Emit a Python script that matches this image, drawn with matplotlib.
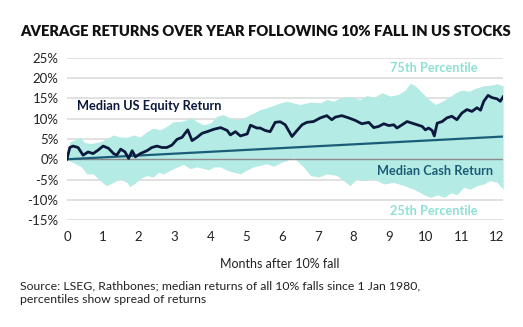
import matplotlib.pyplot as plt
import numpy as np

plt.rcParams['font.family'] = ['Lato', 'DejaVu Sans']

# median US equity return after a 10% fall (months, % return)
equity_months = [0, 0.08, 0.17, 0.31, 0.45, 0.59, 0.73, 0.87, 1.01, 1.16, 1.3, 1.39,
                 1.5, 1.62, 1.72, 1.82, 1.91, 2.05, 2.23, 2.37, 2.51, 2.65, 2.79, 2.93,
                 3.07, 3.21, 3.37, 3.49, 3.63, 3.77, 3.91, 4.1, 4.29, 4.47, 4.56, 4.7,
                 4.84, 5.03, 5.12, 5.3, 5.39, 5.53, 5.67, 5.81, 5.95, 6.09, 6.28, 6.42,
                 6.56, 6.69, 6.88, 7.07, 7.25, 7.39, 7.49, 7.67, 7.86, 8.04, 8.23, 8.42,
                 8.56, 8.7, 8.84, 8.98, 9.12, 9.21, 9.35, 9.49, 9.63, 9.77, 9.91, 10.0,
                 10.09, 10.19, 10.25, 10.33, 10.47, 10.6, 10.74, 10.88, 11.02, 11.16, 11.3,
                 11.44, 11.54, 11.63, 11.75, 11.86, 12.0, 12.09, 12.17]
equity_median = [0, 2.9, 3.25, 2.9, 1.0, 1.8, 1.4, 2.25, 3.25, 2.7, 1.4, 1.0,
                 2.5, 1.8, 0.2, 2.1, 0.6, 1.4, 2.1, 2.9, 3.25, 2.9, 2.9, 3.5,
                 4.9, 5.4, 7.25, 4.6, 5.4, 6.4, 6.8, 7.4, 7.8, 7.1, 6.0, 6.8,
                 5.75, 6.25, 8.4, 7.7, 7.7, 7.1, 6.8, 9.1, 9.25, 8.5, 5.6, 7.1,
                 8.5, 9.1, 9.3, 10.2, 10.75, 9.75, 10.4, 10.75, 10.2, 9.6, 8.75, 9.1,
                 7.8, 8.1, 8.75, 8.3, 8.5, 7.7, 8.5, 9.3, 8.9, 8.5, 8.1, 7.25,
                 7.7, 7.1, 5.75, 8.9, 9.3, 10.2, 10.6, 9.75, 11.4, 12.25, 11.8,
                 12.7, 12.1, 14.3, 15.75, 15.2, 14.9, 14.3, 15.4]

# 75th percentile of returns
upper_months = [0, 0.08, 0.36, 0.5, 0.68, 0.92, 1.1, 1.3, 1.48, 1.67, 1.86, 2.04, 2.23,
                2.41, 2.6, 2.78, 2.97, 3.16, 3.34, 3.48, 3.62, 3.81, 4.0, 4.18, 4.36,
                4.55, 4.74, 4.93, 5.11, 5.3, 5.39, 5.58, 5.95, 6.14, 6.32, 6.51, 6.79,
                7.07, 7.25, 7.44, 7.63, 7.91, 8.18, 8.37, 8.56, 8.79, 9.02, 9.25, 9.44,
                9.58, 9.72, 9.91, 10.1, 10.28, 10.47, 10.65, 10.84, 11.03, 11.21, 11.4,
                11.63, 11.82, 12.0, 12.17]
upper_pct = [0, 4.3, 5.4, 4.1, 3.9, 4.3, 5.1, 6.0, 5.5, 5.4, 6.0, 5.5, 6.8,
             7.7, 7.25, 8.1, 9.3, 9.3, 9.75, 10.2, 9.3, 8.5, 8.9, 10.6, 11.0,
             10.2, 9.75, 10.2, 11.0, 11.8, 12.25, 12.7, 13.9, 14.3, 13.9, 13.5, 14.1,
             13.9, 14.75, 14.3, 15.2, 15.4, 14.75, 15.75, 15.2, 16.4, 15.6, 16.0, 17.1,
             18.75, 18.1, 16.4, 14.75, 13.5, 14.3, 15.2, 16.4, 17.1, 16.75, 17.5,
             18.1, 18.3, 18.6, 18.1]

# 25th percentile of returns
lower_months = [0, 0.12, 0.41, 0.55, 0.73, 0.92, 1.1, 1.3, 1.48, 1.67, 1.76, 1.9, 2.04,
                2.23, 2.41, 2.55, 2.69, 2.88, 3.07, 3.25, 3.44, 3.62, 3.81, 3.95, 4.1,
                4.29, 4.47, 4.65, 4.84, 5.0, 5.2, 5.39, 5.58, 5.76, 5.95, 6.14, 6.33,
                6.6, 6.79, 7.02, 7.25, 7.53, 7.9, 8.09, 8.28, 8.56, 8.84, 9.12, 9.4,
                9.68, 9.96, 10.15, 10.33, 10.53, 10.72, 10.88, 11.07, 11.25, 11.44,
                11.63, 11.81, 12.0, 12.17]
lower_pct = [0, -0.6, -1.9, -3.6, -3.6, -5.25, -6.5, -5.7, -4.8, -5.7, -6.75, -5.9, -4.8,
             -4.0, -4.4, -3.2, -3.6, -2.75, -1.9, -1.25, -2.3, -1.9, -2.3, -2.6, -1.9,
             -1.9, -2.75, -3.2, -3.6, -2.75, -1.9, -1.5, -1.1, -1.75, -0.9, -0.25, 0.4,
             -1.9, -4.0, -4.4, -3.6, -4.0, -6.5, -4.8, -5.25, -4.8, -6.1, -5.7, -6.5,
             -7.4, -8.75, -9.4, -8.75, -9.4, -8.25, -8.75, -6.9, -7.4, -6.5,
             -6.1, -5.25, -5.7, -7.4]

# median cash return
cash_months = [0, 1, 2, 3, 4, 5, 6, 7, 8, 9, 10, 11, 12, 12.17]
cash_median = [0, 0.46, 0.92, 1.38, 1.84, 2.3, 2.76, 3.22, 3.68, 4.14, 4.6, 5.06, 5.52, 5.6]

yticks = [-15, -10, -5, 0, 5, 10, 15, 20, 25]
xticks = list(range(13))

band_color = '#b4ebe5'
navy = '#0b1a3c'
cash_color = '#1b5d78'
label_teal = '#8ee0d5'

fig = plt.figure(figsize=(5.23, 3.27), dpi=100)
ax = fig.add_axes([0.128, 0.327, 0.834, 0.496])

# fill the band on a common grid so both edges line up
grid = np.union1d(np.union1d(upper_months, lower_months), equity_months)
ax.fill_between(grid, np.interp(grid, lower_months, lower_pct),
                np.interp(grid, upper_months, upper_pct),
                color=band_color, linewidth=0, zorder=1)

for y in yticks:
    if y == 0:
        continue
    ax.axhline(y, color='#dcdcdc', linewidth=1.2, zorder=0)
ax.axhline(0, color='#8c8c8c', linewidth=1.0, zorder=2)

ax.plot(cash_months, cash_median, color=cash_color, linewidth=1.6, zorder=3)
ax.plot(equity_months, equity_median, color=navy, linewidth=2.0, zorder=4)

ax.set_xlim(0, 12.17)
ax.set_ylim(-15, 25)
ax.set_yticks(yticks)
ax.set_yticklabels([f'{y}%' for y in yticks])
ax.set_xticks(xticks)
ax.tick_params(length=0, labelsize=9.5, colors='#222222', pad=6)
ax.tick_params(axis='x', pad=8)
for s in ax.spines.values():
    s.set_visible(False)

lab = dict(fontsize=9.2, fontweight='bold', va='center', ha='left')
ax.text(0.28, 13.1, 'Median US Equity Return', color=navy, **lab)
ax.text(9.02, 22.5, '75th Percentile', color=label_teal, **lab)
ax.text(8.65, -2.9, 'Median Cash Return', color=cash_color, **lab)
ax.text(9.02, -12.75, '25th Percentile', color=label_teal, **lab)

fig.text(0.039, 0.905, 'AVERAGE RETURNS OVER YEAR FOLLOWING 10% FALL IN US STOCKS',
         fontsize=10.6, fontweight='heavy', color='#111111', va='center', ha='left')
fig.text(0.535, 0.193, 'Months after 10% fall', fontsize=9, color='#222222',
         va='center', ha='center')
fig.text(0.039, 0.105, 'Source: LSEG, Rathbones; median returns of all 10% falls since 1 Jan 1980,\n'
         'percentiles show spread of returns', fontsize=8.8, color='#222222',
         va='center', ha='left', linespacing=1.35)

fig.savefig('out.png', dpi=100)
